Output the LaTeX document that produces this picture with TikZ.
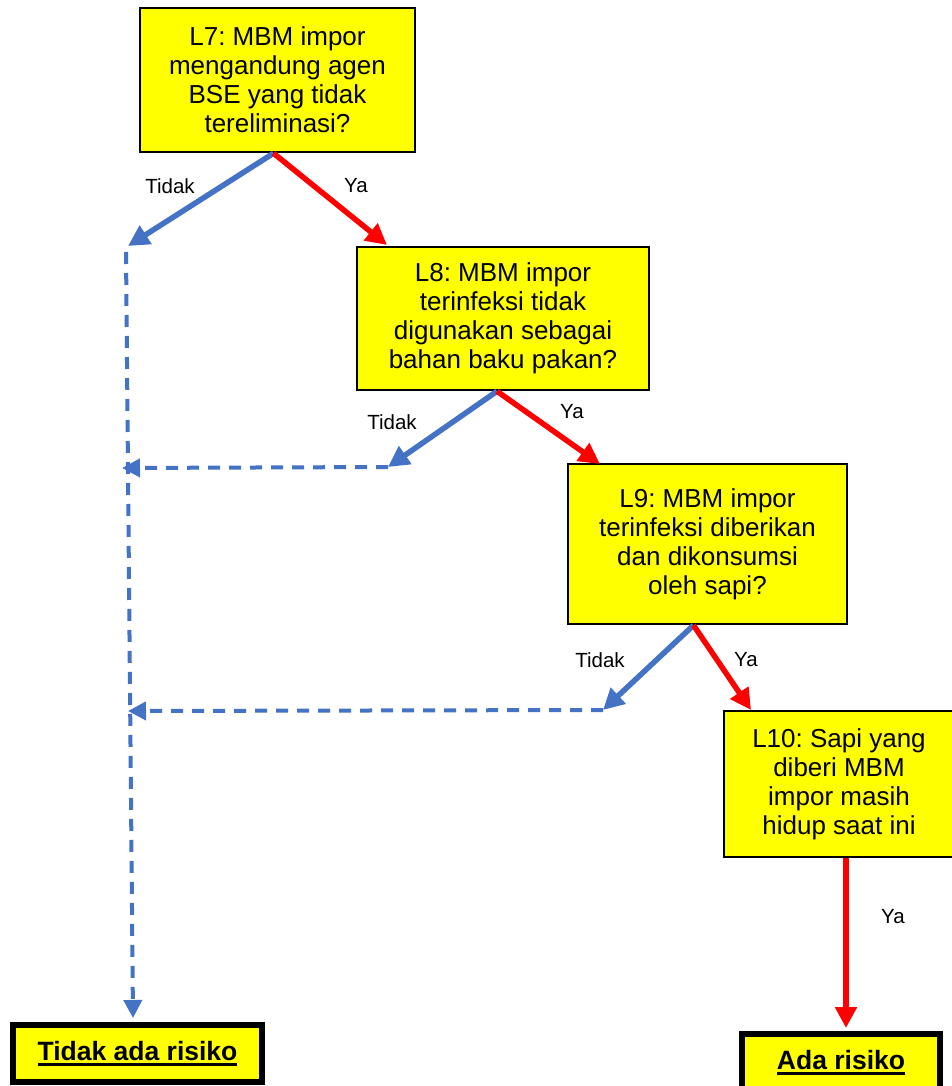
\documentclass[tikz,border=0pt]{standalone}
\usepackage{fontspec}
\setmainfont{Liberation Sans}
\usetikzlibrary{arrows.meta}
\definecolor{myblue}{HTML}{4472C4}
\definecolor{myred}{HTML}{FF0000}
\definecolor{myyellow}{HTML}{FFFF00}
\frenchspacing
\newcommand\myul[1]{\sbox0{#1}\rlap{\rule[-5.5pt]{\wd0}{2.6pt}}\usebox0}
\begin{document}
\begin{tikzpicture}[x=1pt,y=-1pt,
 qbox/.style={draw=black,line width=2.5pt,fill=myyellow,align=center,font=\fontsize{26}{29}\selectfont,inner sep=0pt},
 endbox/.style={draw=black,line width=6pt,fill=myyellow,font=\fontsize{26.5}{30}\selectfont\bfseries,inner sep=0pt},
 lbl/.style={font=\fontsize{20.5}{24}\selectfont,inner sep=0pt},
 yes/.style={draw=myred,line width=5.5pt,-{Triangle[length=21pt,width=21pt]}},
 no/.style={draw=myblue,line width=5.5pt,-{Triangle[length=21pt,width=21pt]}},
 nodash/.style={draw=myblue,line width=4pt,dash pattern=on 12pt off 9pt,-{Triangle[length=18pt,width=18pt]}},
]
\clip (0,0) rectangle (952,1086);
\fill[white] (0,0) rectangle (952,1086);

\node[qbox,minimum width=275pt,minimum height=144pt] (L7) at (277.5,80)
  {L7: MBM impor\\mengandung agen\\BSE yang tidak\\tereliminasi?};
\node[qbox,minimum width=292pt,minimum height=143pt] (L8) at (503,318.5)
  {L8: MBM impor\\terinfeksi tidak\\digunakan sebagai\\bahan baku pakan?};
\node[qbox,minimum width=279pt,minimum height=160pt] (L9) at (707.5,544)
  {L9: MBM impor\\terinfeksi diberikan\\dan dikonsumsi\\oleh sapi?};
\node[qbox,minimum width=230pt,minimum height=146pt] (L10) at (839,784)
  {L10: Sapi yang\\diberi MBM\\impor masih\\hidup saat ini};

\node[endbox,minimum width=249pt,minimum height=57pt] (N) at (137.5,1053.5) {\myul{Tidak ada risiko}};
\node[endbox,minimum width=198pt,minimum height=57pt] (A) at (841,1062.5) {\myul{Ada risiko}};

\coordinate (a1) at (128,246);
\coordinate (b1) at (387,245);
\coordinate (a2) at (388,467);
\coordinate (b2) at (600,464);
\coordinate (m2) at (122,468);
\coordinate (a3) at (603,710);
\coordinate (b3) at (751,710);
\coordinate (m3) at (128,711);
\coordinate (v0) at (126,252);
\coordinate (v1) at (133,1018);

\draw[no] ([xshift=-4pt]L7.south) -- (a1);
\draw[yes] ([xshift=-4pt]L7.south) -- (b1);
\draw[no] ([xshift=-6pt]L8.south) -- (a2);
\draw[yes] ([xshift=-6pt]L8.south) -- (b2);
\draw[nodash] (a2) -- (m2);
\draw[no] ([xshift=-14pt]L9.south) -- (a3);
\draw[yes] ([xshift=-14pt]L9.south) -- (b3);
\draw[nodash] (a3) -- (m3);
\draw[nodash] (v0) -- (v1);
\draw[yes] ([xshift=7pt]L10.south) -- ([xshift=5pt,yshift=3pt]A.north);

\node[lbl] (t1) at (170,186) {Tidak};
\node[lbl] (y1) at (356,186) {Ya};
\node[lbl] (t2) at (392,422) {Tidak};
\node[lbl] (y2) at (572,412) {Ya};
\node[lbl] (t3) at (600,660) {Tidak};
\node[lbl] (y3) at (746,660) {Ya};
\node[lbl] (y4) at (893,917) {Ya};
\end{tikzpicture}
\end{document}
